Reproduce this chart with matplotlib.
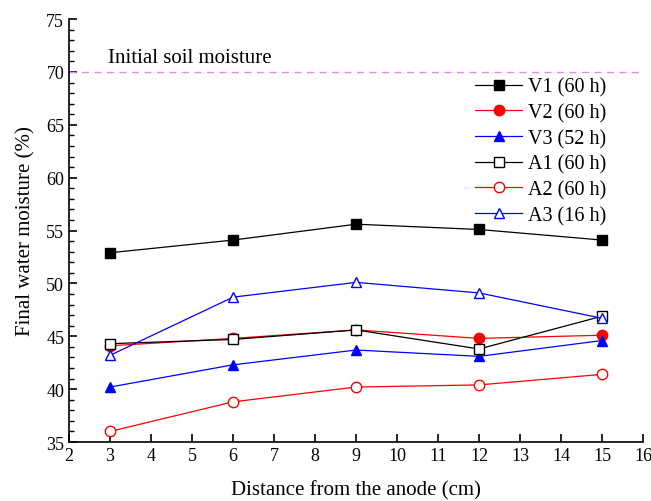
import matplotlib.pyplot as plt

plt.rcParams['font.family'] = ['Liberation Serif', 'DejaVu Serif']

# Data
distance = [3, 6, 9, 12, 15]
v1 = [52.9, 54.1, 55.6, 55.1, 54.1]
v2 = [44.1, 44.8, 45.6, 44.8, 45.1]
v3 = [40.2, 42.3, 43.7, 43.1, 44.6]
a1 = [44.3, 44.7, 45.6, 43.8, 46.9]
a2 = [36.0, 38.8, 40.2, 40.4, 41.4]
a3 = [43.2, 48.7, 50.1, 49.1, 46.7]
labels = ['V1 (60 h)', 'V2 (60 h)', 'V3 (52 h)', 'A1 (60 h)', 'A2 (60 h)', 'A3 (16 h)']
initial_moisture = 70

fig = plt.figure(figsize=(6.51, 5.02), dpi=100)
ax = fig.add_axes([0.106, 0.1175, 0.882, 0.8425])

ax.axhline(initial_moisture, color='violet', ls=(0, (5, 4)), lw=1)
ax.text(2.95, initial_moisture + 0.9, 'Initial soil moisture', fontsize=15, va='baseline')

ms = 7.5
ax.plot(distance, v1, '-s', color='black', lw=0.9, ms=ms, label=labels[0])
ax.plot(distance, v2, '-o', color='red', lw=0.9, ms=ms, label=labels[1])
ax.plot(distance, v3, '-^', color='blue', lw=0.9, ms=ms, label=labels[2])
ax.plot(distance, a1, '-s', color='black', mfc='white', lw=0.9, ms=ms, label=labels[3])
ax.plot(distance, a2, '-o', color='red', mfc='white', lw=0.9, ms=ms, label=labels[4])
ax.plot(distance, a3, '-^', color='blue', mfc='white', lw=0.9, ms=ms, label=labels[5])

ax.set_xlim(2, 16)
ax.set_ylim(35, 75)
ax.set_xticks(range(2, 17))
ax.set_yticks(range(35, 76, 5))
ax.set_yticks(range(35, 76), minor=True)
ax.tick_params(direction='in', labelsize=13, width=1.2, length=6)
ax.tick_params(which='minor', direction='in', width=1, length=3.5)
for s in ['top', 'right']:
    ax.spines[s].set_visible(False)
for s in ['left', 'bottom']:
    ax.spines[s].set_linewidth(1.2)

ax.set_xlabel('Distance from the anode (cm)', fontsize=15, labelpad=12)
ax.set_ylabel('Final water moisture (%)', fontsize=15, labelpad=8)

ax.legend(loc='upper left', bbox_to_anchor=(0.707, 0.862), frameon=False, fontsize=14.5,
          handlelength=2.35, handletextpad=0.3, labelspacing=0.32,
          borderpad=0, borderaxespad=0)

fig.savefig('out.png', dpi=100)
